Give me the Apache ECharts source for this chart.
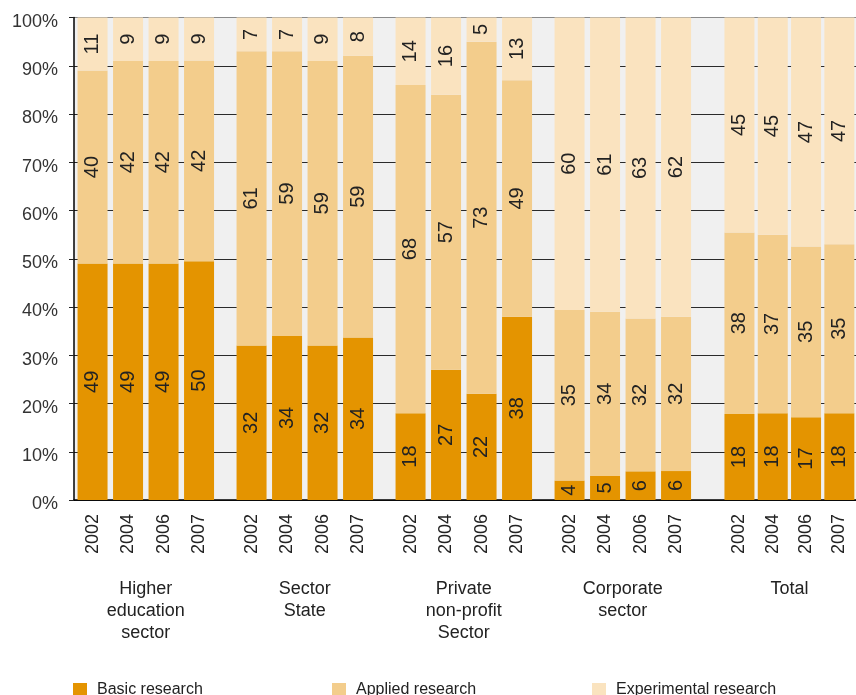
<!DOCTYPE html>
<html>
<head>
<meta charset="utf-8">
<script src="https://cdn.jsdelivr.net/npm/echarts@6/dist/echarts.min.js"></script>
<style>
html,body{margin:0;padding:0;background:#fff;}
#chart{width:856px;height:695px;}
</style>
</head>
<body>
<div id="chart"></div>
<script>
// ---- data ----
var groups = ['Higher\neducation\nsector', 'Sector\nState', 'Private\nnon-profit\nSector', 'Corporate\nsector', 'Total'];
var years = ['2002', '2004', '2006', '2007'];
var basic = [[49, 49, 49, 50], [32, 34, 32, 34], [18, 27, 22, 38], [4, 5, 6, 6], [18, 18, 17, 18]];
var applied = [[40, 42, 42, 42], [61, 59, 59, 59], [68, 57, 73, 49], [35, 34, 32, 32], [38, 37, 35, 35]];
var experimental = [[11, 9, 9, 9], [7, 7, 9, 8], [14, 16, 5, 13], [60, 61, 63, 62], [45, 45, 47, 47]];
var seriesNames = ['Basic research', 'Applied research', 'Experimental research'];
var yTicks = [0, 10, 20, 30, 40, 50, 60, 70, 80, 90, 100];

// ---- layout / style ----
var colors = ['#E49400', '#F3CD8C', '#FAE3BF'];
var groupLeft = [74.8, 233.8, 392.8, 551.8, 722.8];
var groupWidth = 142;
var plotTop = 17.5, plotHeight = 482.5;
var FONT = '"Liberation Sans", Arial, sans-serif';
var TXT = '#222';

var chart = echarts.init(document.getElementById('chart'), null, {renderer: 'canvas'});

var splitColors = yTicks.map(function (t, i) { return i === yTicks.length - 1 ? '#8a8a8a' : '#2a2a2a'; });

var grids = [{left: 74, right: 0, top: plotTop, height: plotHeight, show: true, backgroundColor: '#f0f0f0', borderWidth: 0, containLabel: false}];
var xAxes = [{gridIndex: 0, type: 'category', data: ['a'], axisLine: {show: true, lineStyle: {color: '#000', width: 1.5}}, axisTick: {show: false}, axisLabel: {show: false}, splitLine: {show: false}}];
var yAxes = [{
  gridIndex: 0, type: 'value', min: yTicks[0], max: yTicks[yTicks.length - 1], interval: 10,
  axisLine: {show: true, lineStyle: {color: '#000', width: 1.5}},
  axisTick: {show: true, inside: false, length: 5, lineStyle: {color: '#222'}},
  axisLabel: {formatter: '{value}%', fontSize: 18, color: '#333', margin: 16, fontFamily: FONT, verticalAlign: 'top', lineHeight: 9},
  splitLine: {show: true, lineStyle: {color: splitColors, width: 1}}
}];
var series = [];
var vals = [basic, applied, experimental];

groups.forEach(function (g, gi) {
  var idx = gi + 1;
  grids.push({left: groupLeft[gi], width: groupWidth, top: plotTop, height: plotHeight, containLabel: false});
  xAxes.push({
    gridIndex: idx, type: 'category', data: years,
    axisLine: {show: false}, axisTick: {show: false},
    axisLabel: {rotate: 90, fontSize: 18, color: TXT, margin: 14, fontFamily: FONT},
    name: g, nameLocation: 'middle', nameGap: 78,
    nameTextStyle: {fontSize: 18, lineHeight: 22, color: TXT, fontFamily: FONT, align: 'center'}
  });
  yAxes.push({gridIndex: idx, type: 'value', min: 0, max: 100, show: false, splitLine: {show: false}});
  var sums = years.map(function (y, yi) { return basic[gi][yi] + applied[gi][yi] + experimental[gi][yi]; });
  vals.forEach(function (arr, si) {
    series.push({
      name: seriesNames[si], type: 'bar', stack: 'g' + gi,
      xAxisIndex: idx, yAxisIndex: idx, barWidth: 30,
      itemStyle: {color: colors[si]},
      data: arr[gi].map(function (v, yi) { return {value: v / sums[yi] * 100, raw: v}; }),
      label: {
        show: true, position: 'inside', rotate: 90, fontSize: 20, color: TXT, fontFamily: FONT,
        formatter: function (p) { return String(p.data.raw); }
      },
      emphasis: {disabled: true},
      animation: false
    });
  });
});

var legendLeft = [73, 332, 592];
var legends = seriesNames.map(function (n, i) {
  return {
    data: [n], left: legendLeft[i], top: 682, padding: 0, itemWidth: 14, itemHeight: 14, icon: 'rect',
    textStyle: {fontSize: 16, color: TXT, fontFamily: FONT, padding: [2, 0, 0, 5]},
    selectedMode: false
  };
});

chart.setOption({
  animation: false,
  textStyle: {fontFamily: FONT},
  grid: grids,
  xAxis: xAxes,
  yAxis: yAxes,
  legend: legends,
  series: series
});
</script>
</body>
</html>
